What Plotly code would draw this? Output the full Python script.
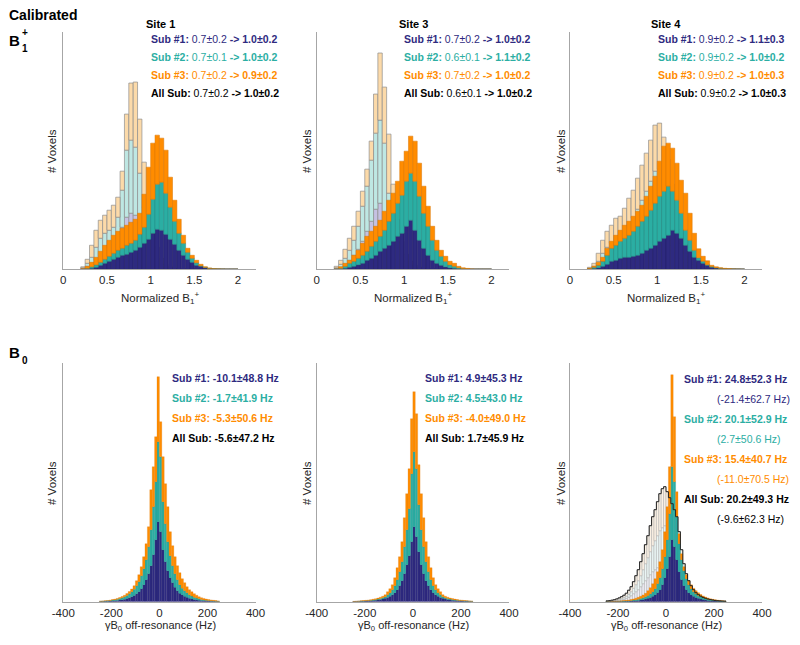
import numpy as np
import plotly.graph_objects as go

W, H = 800, 645
FONT = "Liberation Sans, Arial, sans-serif"

# ---------------- colours ----------------
NAVY, TEAL, ORANGE = "#2E2A80", "#2BAEA3", "#FF8C00"
NAVY_E, TEAL_E, ORANGE_E = "#231F66", "#208A80", "#D87400"
NAVY_L, TEAL_L, ORANGE_L = "#C6C1E2", "#BEE7E3", "#FCDAA9"
PALE = ["#EFEEF6", "#EAF6F5", "#FBF1E4"]

# ---------------- B1+ histograms: 36 bins of 0.05 from 0.20 to 2.00 (counts, a.u.) ----------------
B1_BIN_WIDTH = 0.05
B1_LEFT_EDGES = np.round(np.arange(0.20, 1.999, 0.05), 2)

site1_b1_before_sub1 = [1, 3, 6, 9, 13, 17, 21, 25, 32, 42, 52, 56, 54, 40, 25, 14, 7, 3, 1.5, 0.7, 0.3, 0.1, 0, 0, 0, 0, 0, 0, 0, 0, 0, 0, 0, 0, 0, 0]
site1_b1_before_sub2 = [0.5, 3, 6, 13, 18, 19, 18, 17, 20, 37, 67, 73, 68, 56, 37, 24, 13, 7, 3.5, 1.3, 0.7, 0.4, 0, 0, 0, 0, 0, 0, 0, 0, 0, 0, 0, 0, 0, 0]
site1_b1_before_sub3 = [1, 4, 12, 17, 18, 18, 20, 22, 20, 19, 36, 57, 65, 54, 45, 32, 22, 12, 6, 3, 1.5, 0.5, 0, 0, 0, 0, 0, 0, 0, 0, 0, 0, 0, 0, 0, 0]
site1_b1_after_sub1 = [0, 0.5, 1, 2, 4, 6, 8, 10, 12, 14, 15, 17, 19, 22, 26, 30, 36, 40, 39, 35, 30, 25, 19, 14, 10, 7, 4, 3, 1.5, 0.7, 0.3, 0.2, 0.1, 0, 0, 0]
site1_b1_after_sub2 = [0, 0.5, 1.5, 2.5, 3, 4, 5, 6, 7, 7, 9, 9, 10, 13, 16, 25, 34, 45, 48, 41, 32, 23, 17, 12, 7, 4, 2.5, 0.5, 0.5, 0.3, 0.2, 0.1, 0, 0, 0, 0]
site1_b1_after_sub3 = [0.5, 2, 4.5, 7.5, 11, 14, 16, 18, 19, 20, 20, 21, 21, 21, 33, 47, 56, 49, 44, 43, 30, 21, 14, 8, 4, 3, 2.5, 1.5, 0.5, 0.2, 0.1, 0, 0, 0, 0, 0]

site3_b1_before_sub1 = [0.5, 2, 5, 9, 14, 20, 28, 38, 48, 60, 66, 55, 32, 18, 10, 5, 2.5, 1, 0.5, 0.2, 0, 0, 0, 0, 0, 0, 0, 0, 0, 0, 0, 0, 0, 0, 0, 0]
site3_b1_before_sub2 = [1, 3, 6, 10, 15, 23, 35, 45, 61, 76, 83, 71, 44, 27, 17, 10, 5.5, 3, 1.5, 0.8, 0.5, 0, 0, 0, 0, 0, 0, 0, 0, 0, 0, 0, 0, 0, 0, 0]
site3_b1_before_sub3 = [1.5, 4, 9, 12, 14, 15, 15, 17, 19, 39, 67, 56, 59, 40, 23, 13, 7, 4, 2, 1, 0.5, 0.5, 0, 0, 0, 0, 0, 0, 0, 0, 0, 0, 0, 0, 0, 0]
site3_b1_after_sub1 = [0, 0.5, 1, 2, 3, 4.5, 6, 9, 11, 14, 18, 21, 24, 28, 33, 36, 43, 49, 39, 29, 21, 14, 9, 6, 4, 2.5, 1.5, 1, 0.5, 0.3, 0.1, 0, 0, 0, 0, 0]
site3_b1_after_sub2 = [0, 0.5, 2, 4, 5, 6.5, 8, 9, 12, 14, 15, 18, 24, 28, 33, 38, 45, 47, 49, 44, 35, 29, 20, 13, 9, 5.5, 3, 2, 1, 0.4, 0.2, 0, 0, 0, 0, 0]
site3_b1_after_sub3 = [0.3, 1.6, 3, 3, 6, 8, 12, 15, 15, 15, 16, 19, 21, 20, 22, 34, 30, 37, 40, 33, 27, 20, 14, 10, 6, 5, 3.5, 3, 1.5, 0.8, 0.6, 0.4, 0, 0, 0, 0]

site4_b1_before_sub1 = [0.5, 1.5, 4, 8, 11, 13, 15, 16, 18, 21, 25, 29, 34, 39, 43, 46, 46, 40, 32, 24, 17, 11, 7, 4, 2, 1, 0.5, 0.2, 0, 0, 0, 0, 0, 0, 0, 0]
site4_b1_before_sub2 = [0.5, 1.5, 4, 8, 11, 13, 15, 17, 19, 22, 26, 31, 35, 39, 45, 52, 54, 50, 40, 31, 22, 15, 9, 5, 3, 1.5, 0.5, 0.3, 0, 0, 0, 0, 0, 0, 0, 0]
site4_b1_before_sub3 = [1, 3, 8, 13, 16, 18, 21, 20, 24, 28, 28, 31, 35, 38, 41, 46, 46, 42, 38, 30, 21, 14, 9, 5, 2, 1, 0.5, 0.2, 0, 0, 0, 0, 0, 0, 0, 0]
site4_b1_after_sub1 = [0.3, 0.7, 1.5, 3, 5, 8, 9, 11, 12, 12, 13, 14, 16, 19, 21, 24, 28, 31, 34, 39, 36, 31, 24, 18, 12, 9, 6, 4, 2, 1.2, 0.8, 0.5, 0.3, 0.2, 0.1, 0]
site4_b1_after_sub2 = [0.2, 1.3, 2.5, 5, 9, 13, 15, 17, 19, 22, 25, 29, 32, 34, 38, 42, 45, 47, 49, 39, 33, 25, 15, 11, 7, 2.5, 2, 0.5, 0.7, 0.4, 0.3, 0.2, 0.1, 0, 0, 0]
site4_b1_after_sub3 = [0.5, 1, 3, 4, 7, 7, 10, 11, 13, 14, 15, 15, 16, 20, 24, 27, 35, 45, 43, 43, 37, 33, 37, 27, 17, 9, 5, 4, 1.3, 0.9, 0.4, 0.3, 0.2, 0.1, 0, 0]

# ---------------- B0 histograms: 50 bins of 10 Hz from -250 to 250 Hz (counts, a.u.) ----------------
B0_BIN_WIDTH = 10
B0_LEFT_EDGES = np.arange(-250, 250, 10)

site1_b0_sub1 = [0.2, 0.3, 0.4, 0.5, 0.6, 0.8, 1, 1.3, 1.6, 2, 2.5, 3.2, 4, 5, 6.3, 8, 10, 13, 17, 22, 28, 36, 47, 62, 80,
                 70, 52, 40, 31, 24, 19, 14.5, 11, 8.5, 7, 5.5, 4.4, 3.5, 2.8, 2.2, 1.8, 1.4, 1.1, 0.9, 0.7, 0.6, 0.5, 0.4, 0.3, 0.2]
site1_b0_sub2 = [0.2, 0.2, 0.3, 0.4, 0.6, 0.8, 1, 1.2, 1.6, 2, 2.5, 3.1, 4, 5, 6.2, 8, 10, 13, 16, 20, 27, 36, 48, 58, 80,
                 75, 48, 38, 29, 22, 17, 13.5, 11, 8.5, 6.5, 5.5, 4.6, 3.5, 2.8, 2.3, 1.8, 1.5, 1.2, 0.9, 0.7, 0.5, 0.4, 0.3, 0.2, 0.2]
site1_b0_sub3 = [0.2, 0.2, 0.3, 0.3, 0.4, 0.5, 0.6, 0.8, 1, 1.2, 1.5, 1.8, 2.2, 2.8, 3.5, 5, 7, 9, 12, 16, 20, 40, 40, 45, 65,
                 35, 45, 40, 35, 24, 20, 17, 14, 12, 9.5, 8, 6, 5, 4.4, 3.5, 2.9, 2.1, 1.7, 1.5, 1.3, 1.1, 0.9, 0.7, 0.6, 0.4]

site3_b0_sub1 = [0.15, 0.2, 0.3, 0.4, 0.5, 0.6, 0.7, 0.9, 1.1, 1.4, 1.7, 2.1, 2.7, 3.4, 4.3, 5.5, 7, 9, 12, 16, 21, 28, 37, 46, 60,
                 75, 65, 50, 37, 28, 21, 16, 12, 9, 7, 5.5, 4.3, 3.4, 2.7, 2.1, 1.7, 1.4, 1.1, 0.9, 0.7, 0.6, 0.5, 0.4, 0.3, 0.2]
site3_b0_sub2 = [0.05, 0.1, 0.1, 0.2, 0.2, 0.3, 0.4, 0.5, 0.6, 0.7, 0.9, 1.1, 1.3, 1.6, 2.7, 3.5, 5, 7, 10, 14, 19, 27, 35, 47, 68,
                 75, 68, 47, 35, 27, 19, 14, 10, 7, 5, 3.5, 2.7, 1.6, 1.3, 1.1, 1.0, 0.8, 0.7, 0.6, 0.5, 0.4, 0.3, 0.3, 0.2, 0.2]
site3_b0_sub3 = [0.2, 0.2, 0.3, 0.3, 0.4, 0.5, 0.6, 0.6, 0.8, 0.9, 1, 1.3, 1.5, 2, 3, 4, 5, 8, 12, 15, 20, 29, 36, 40, 55,
                 60, 55, 40, 36, 29, 20, 15, 12, 8, 5, 4, 3, 2, 1.5, 1.3, 1, 0.9, 0.8, 0.6, 0.6, 0.5, 0.4, 0.3, 0.3, 0.2]

site4_b0_before_sub1 = [0.3, 0.4, 0.6, 0.8, 1.1, 1.5, 2, 2.6, 3.4, 4.6, 6, 8, 10, 12, 15, 18, 21, 24, 27, 30, 32, 34, 36, 37, 37,
                        34, 31, 28, 25, 22, 17, 12, 8.5, 6, 4.5, 3.4, 2.5, 1.9, 1.4, 1.1, 0.8, 0.6, 0.5, 0.4, 0.3, 0.2, 0.2, 0.1, 0.1, 0.1]
site4_b0_before_sub2 = [0.2, 0.3, 0.4, 0.5, 0.7, 1, 1.3, 1.7, 2.2, 3, 4, 5.5, 7, 9, 11, 14, 17, 20, 23, 26, 29, 32, 35, 37, 39,
                        39, 38, 37, 35, 33, 28, 21, 16, 12, 9, 7, 5.3, 4, 3.1, 2.4, 1.9, 1.5, 1.2, 0.9, 0.7, 0.6, 0.4, 0.3, 0.3, 0.2]
site4_b0_before_sub3 = [0.3, 0.4, 0.5, 0.7, 1, 1.3, 1.7, 2.2, 2.9, 3.9, 5, 6.5, 9, 11, 14, 16, 19, 22, 26, 29, 31, 34, 37, 39, 39,
                        37, 35, 33, 32, 30, 25, 19, 13.5, 10, 7.5, 5.6, 4.2, 3.1, 2.5, 2, 1.6, 1.3, 1, 0.8, 0.7, 0.5, 0.4, 0.4, 0.2, 0.2]
site4_b0_sub1 = [0.05, 0.1, 0.1, 0.1, 0.15, 0.2, 0.25, 0.3, 0.4, 0.5, 0.6, 0.8, 1, 1.3, 1.7, 2.1, 2.7, 3.4, 4.3, 5.5, 7, 9, 12, 17, 24,
                 33, 45, 62, 55, 42, 30, 22, 16, 12, 9, 7, 5.5, 4.3, 3.4, 2.7, 2.1, 1.7, 1.3, 1, 0.8, 0.6, 0.5, 0.4, 0.3, 0.2]
site4_b0_sub2 = [0.05, 0.05, 0.1, 0.15, 0.15, 0.2, 0.25, 0.3, 0.4, 0.5, 0.7, 0.8, 1, 1.2, 1.5, 1.9, 2.3, 2.9, 3.7, 4.5, 6, 9, 12, 16, 21,
                 29, 43, 73, 65, 43, 28, 20, 15, 11, 8, 6, 4.5, 3.7, 2.9, 2.3, 1.9, 1.5, 1.2, 1, 0.8, 0.7, 0.5, 0.4, 0.3, 0.3]
site4_b0_sub3 = [0.1, 0.1, 0.15, 0.2, 0.25, 0.3, 0.4, 0.5, 0.6, 0.7, 0.9, 1.2, 1.5, 1.9, 2.3, 2.8, 3.5, 4.7, 6, 8, 10, 12, 16, 19, 25,
                 33, 47, 92, 65, 25, 10, 6, 4, 4, 4, 4, 3.5, 3, 2.7, 2.2, 1.8, 1.5, 1.3, 1, 0.8, 0.7, 0.6, 0.5, 0.4, 0.3]

# ---------------- tick labels ----------------
B1_TICKS = [0, 0.5, 1, 1.5, 2]
B1_TICKTEXT = ["0", "0.5", "1", "1.5", "2"]
B0_TICKS = [-400, -200, 0, 200, 400]
B0_TICKTEXT = ["-400", "-200", "0", "200", "400"]

SITES = ["Site 1", "Site 3", "Site 4"]

B1_TEXT = [
    [("Sub #1:", "0.7±0.2", "-&gt; 1.0±0.2"), ("Sub #2:", "0.7±0.1", "-&gt; 1.0±0.2"),
     ("Sub #3:", "0.7±0.2", "-&gt; 0.9±0.2"), ("All Sub:", "0.7±0.2", "-&gt; 1.0±0.2")],
    [("Sub #1:", "0.7±0.2", "-&gt; 1.0±0.2"), ("Sub #2:", "0.6±0.1", "-&gt; 1.1±0.2"),
     ("Sub #3:", "0.7±0.2", "-&gt; 1.0±0.2"), ("All Sub:", "0.6±0.1", "-&gt; 1.0±0.2")],
    [("Sub #1:", "0.9±0.2", "-&gt; 1.1±0.3"), ("Sub #2:", "0.9±0.2", "-&gt; 1.0±0.2"),
     ("Sub #3:", "0.9±0.2", "-&gt; 1.0±0.3"), ("All Sub:", "0.9±0.2", "-&gt; 1.0±0.3")],
]
B0_TEXT = [
    ["Sub #1: -10.1±48.8 Hz", "Sub #2: -1.7±41.9 Hz", "Sub #3: -5.3±50.6 Hz", "All Sub: -5.6±47.2 Hz"],
    ["Sub #1: 4.9±45.3 Hz", "Sub #2: 4.5±43.0 Hz", "Sub #3: -4.0±49.0 Hz", "All Sub: 1.7±45.9 Hz"],
    ["Sub #1: 24.8±52.3 Hz", "Sub #2: 20.1±52.9 Hz", "Sub #3: 15.4±40.7 Hz", "All Sub: 20.2±49.3 Hz"],
]
B0_SITE4_BEFORE = ["(-21.4±62.7 Hz)", "(2.7±50.6 Hz)", "(-11.0±70.5 Hz)", "(-9.6±62.3 Hz)"]

TEXT_COLORS = [NAVY, TEAL, ORANGE, "#000000"]

# ---------------- layout geometry (pixels) ----------------
X_DOMAINS_PX = [(63.3, 255.5), (316.7, 509.0), (570.0, 762.0)]
TOP_Y_PX = (32.0, 269.3)
BOT_Y_PX = (363.0, 601.7)
TOP_YMAX = 237.0
BOT_YMAX = 238.7

fig = go.Figure()


def add_stack(x, series, fills, edges, width, ax, lw):
    base = np.zeros(len(x))
    for vals, fc, ec in zip(series, fills, edges):
        v = np.asarray(vals, dtype=float)
        fig.add_trace(go.Bar(x=x, y=v, base=base.copy(), width=width,
                             marker=dict(color=fc, line=dict(color=ec, width=lw)),
                             xaxis="x" + ax, yaxis="y" + ax, showlegend=False, hoverinfo="skip"))
        base = base + v


b1_centers = B1_LEFT_EDGES + B1_BIN_WIDTH / 2
b0_centers = B0_LEFT_EDGES + B0_BIN_WIDTH / 2

top_sets = [
    ([site1_b1_before_sub1, site1_b1_before_sub2, site1_b1_before_sub3],
     [site1_b1_after_sub1, site1_b1_after_sub2, site1_b1_after_sub3]),
    ([site3_b1_before_sub1, site3_b1_before_sub2, site3_b1_before_sub3],
     [site3_b1_after_sub1, site3_b1_after_sub2, site3_b1_after_sub3]),
    ([site4_b1_before_sub1, site4_b1_before_sub2, site4_b1_before_sub3],
     [site4_b1_after_sub1, site4_b1_after_sub2, site4_b1_after_sub3]),
]
for i, (before, after) in enumerate(top_sets):
    ax = str(i + 1)
    add_stack(b1_centers, before, [NAVY_L, TEAL_L, ORANGE_L], ["#8E8E8E"] * 3, B1_BIN_WIDTH, ax, 0.7)
    add_stack(b1_centers, after, [NAVY, TEAL, ORANGE], [NAVY_E, TEAL_E, ORANGE_E], B1_BIN_WIDTH, ax, 0.5)

bot_after = [
    [site1_b0_sub1, site1_b0_sub2, site1_b0_sub3],
    [site3_b0_sub1, site3_b0_sub2, site3_b0_sub3],
    [site4_b0_sub1, site4_b0_sub2, site4_b0_sub3],
]
# site 4 "before" distribution (pale stack with black outline)
before4 = [site4_b0_before_sub1, site4_b0_before_sub2, site4_b0_before_sub3]
add_stack(b0_centers, before4, PALE, ["#A8A8A8"] * 3, B0_BIN_WIDTH, "6", 0.5)
total4 = np.sum(np.array(before4, dtype=float), axis=0)
edges4 = np.append(B0_LEFT_EDGES, B0_LEFT_EDGES[-1] + B0_BIN_WIDTH)
xs = np.concatenate([[edges4[0]], edges4[:-1], [edges4[-1], edges4[-1]]])
ys = np.concatenate([[0], total4, [total4[-1], 0]])
fig.add_trace(go.Scatter(x=xs, y=ys, mode="lines", line=dict(color="#222222", width=1, shape="hv"),
                         xaxis="x6", yaxis="y6", showlegend=False, hoverinfo="skip"))

for i, after in enumerate(bot_after):
    ax = str(i + 4)
    add_stack(b0_centers, after, [NAVY, TEAL, ORANGE], [NAVY_E, TEAL_E, ORANGE_E], B0_BIN_WIDTH, ax, 0.25)

# ---------------- axes ----------------
axis_common = dict(showline=True, linecolor="#A6A6A6", linewidth=1, showgrid=False, zeroline=False,
                   automargin=False, ticks="", tickfont=dict(size=11.5, color="#262626", family=FONT))
layout = dict(width=W, height=H, autosize=False,
              margin=dict(l=0, r=0, t=0, b=0, pad=0, autoexpand=False), barmode="overlay",
              plot_bgcolor="white", paper_bgcolor="white", showlegend=False,
              font=dict(family=FONT))
for i in range(6):
    n = "" if i == 0 else str(i + 1)
    col = i % 3
    x0, x1 = X_DOMAINS_PX[col]
    ypx = TOP_Y_PX if i < 3 else BOT_Y_PX
    xa = dict(axis_common, domain=[x0 / W, x1 / W], anchor="y" + str(i + 1))
    if i < 3:
        xa.update(range=[0, 2.2], tickvals=B1_TICKS, ticktext=B1_TICKTEXT)
        ya_range = [0, TOP_YMAX]
    else:
        xa.update(range=[-400, 400], tickvals=B0_TICKS, ticktext=B0_TICKTEXT)
        ya_range = [0, BOT_YMAX]
    ya = dict(axis_common, domain=[1 - ypx[1] / H, 1 - ypx[0] / H], anchor="x" + str(i + 1),
              range=ya_range, showticklabels=False)
    layout["xaxis" + n] = xa
    layout["yaxis" + n] = ya
fig.update_layout(**layout)


# ---------------- text ----------------
def ann(text, px, py, size=10.5, color="#000000", xanchor="left", yanchor="middle", angle=0):
    fig.add_annotation(x=px / W, y=1 - py / H, xref="paper", yref="paper", text=text, showarrow=False,
                       xanchor=xanchor, yanchor=yanchor, textangle=angle, borderpad=0,
                       font=dict(size=size, color=color, family=FONT))


ann("<b>Calibrated</b>", 8, 15, size=14)
ann("<b>B</b>", 8, 41, size=15)
ann("<b>+</b>", 21, 32, size=10)
ann("<b>1</b>", 21, 49, size=10)
ann("<b>B</b>", 8, 352, size=15)
ann("<b>0</b>", 21, 361, size=10)

site_cx = [160, 413, 666]
ylab_x = [52, 307, 561]
for c in range(3):
    ann("<b>%s</b>" % SITES[c], site_cx[c], 24, size=11, xanchor="center")
    ann("# Voxels", ylab_x[c], 151, size=11.5, xanchor="center", angle=-90, color="#262626")
    ann("# Voxels", ylab_x[c], 483, size=11.5, xanchor="center", angle=-90, color="#262626")
    ann("Normalized B<sub>1</sub><sup>+</sup>", site_cx[c], 298, size=11.5, xanchor="center", color="#262626")
    ann("γB<sub>0</sub> off-resonance (Hz)", site_cx[c], 626, size=11, xanchor="center", yanchor="middle",
        color="#262626")

top_text_x = [150, 403, 657]
for c in range(3):
    for r, (lab, pre, post) in enumerate(B1_TEXT[c]):
        ann("<b>%s</b> %s <b>%s</b>" % (lab, pre, post), top_text_x[c], 39 + 18 * r, color=TEXT_COLORS[r])

bot_text_x = [171, 424]
for c in range(2):
    for r, t in enumerate(B0_TEXT[c]):
        ann("<b>%s</b>" % t, bot_text_x[c], 378 + 20 * r, color=TEXT_COLORS[r])
for r, t in enumerate(B0_TEXT[2]):
    ann("<b>%s</b>" % t, 683, 379 + 40 * r, color=TEXT_COLORS[r])
    ann(B0_SITE4_BEFORE[r], 716, 399 + 40 * r, color=TEXT_COLORS[r])

fig.write_html("out.html", config={"responsive": False, "displayModeBar": False},
               post_script="document.body.style.margin='0px';document.body.style.overflow='hidden';")
